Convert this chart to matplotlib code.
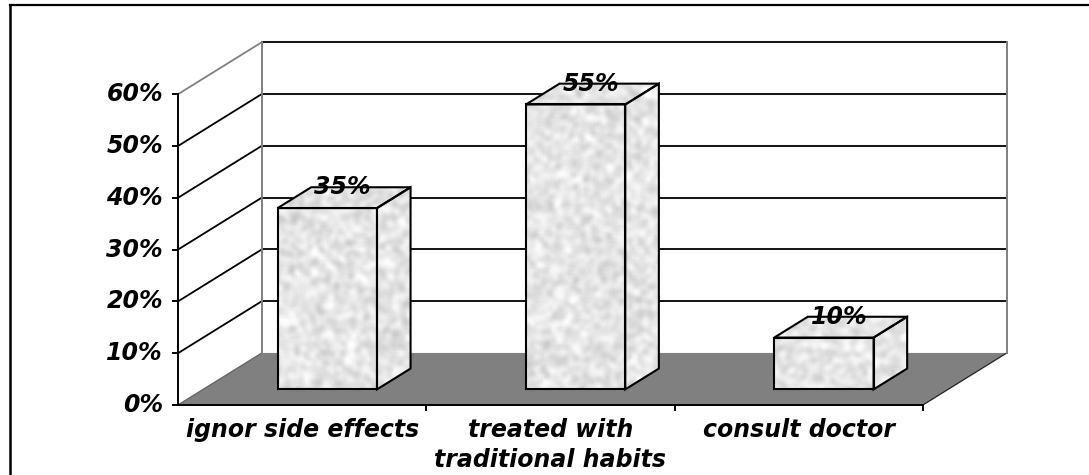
import numpy as np
import matplotlib.pyplot as plt
from matplotlib.patches import Polygon
from matplotlib.lines import Line2D

categories = ["ignor side effects", "treated with\ntraditional habits", "consult doctor"]
values = [35, 55, 10]          # percent
yticks = [0, 10, 20, 30, 40, 50, 60]

# oblique depth offset of the 3-D floor (category units, percent units)
DX, DY = 0.338, 10.05
BAR_W = 0.4                    # gap width 150%
D0, D1 = 0.3, 0.7              # bar depth span within the floor

plt.rcParams['font.family'] = ['DejaVu Sans']
font = dict(fontsize=17, fontweight='bold', fontstyle='italic')

fig = plt.figure(figsize=(10.89, 4.75), dpi=100)
ax = fig.add_axes([0, 0, 1, 1])
ax.set_xlim(-178 / 248.3, (1089 - 178) / 248.3)
ax.set_ylim(-70 / 5.18, 405 / 5.18)
ax.axis('off')

n = len(categories)
ymax = yticks[-1]


def p(x, y, d=0.0):
    return (x + d * DX, y + d * DY)


# floor
floor = Polygon([p(0, 0), p(n, 0), p(n, 0, 1), p(0, 0, 1)], closed=True,
                facecolor='#808080', edgecolor='none', zorder=1)
ax.add_patch(floor)
ax.plot(*zip(p(0, 0), p(0, 0, 1)), color='#666666', lw=1.0, zorder=2)
ax.plot(*zip(p(n, 0), p(n, 0, 1)), color='#222222', lw=0.9, zorder=2)

# walls: gridlines on the side wall and back wall
for v in yticks[1:]:
    c = '#808080' if v == ymax else 'black'
    ax.plot(*zip(p(0, v), p(0, v, 1)), color=c, lw=1.3, zorder=2)
    ax.plot(*zip(p(0, v, 1), p(n, v, 1)), color='black', lw=1.3, zorder=2)
for x in (0, n):
    ax.plot(*zip(p(x, 0, 1), p(x, ymax, 1)), color='#808080', lw=1.4, zorder=2)

# axes lines and ticks
tx = 5 / 248.3
ty = 5 / 5.18
ax.plot([0, 0], [0, ymax], color='black', lw=1.4, zorder=3)
ax.plot([0, n], [0, 0], color='black', lw=1.4, zorder=3)
for v in yticks:
    ax.plot([-tx, 0], [v, v], color='black', lw=1.4, zorder=3)
    ax.text(-15 / 248.3, v, f"{v}%", ha='right', va='center', **font)
for i in range(1, n + 1):
    ax.plot([i, i], [0, -ty], color='black', lw=1.4, zorder=3)
for i, lab in enumerate(categories):
    ax.text(i + 0.5, -2.6, lab, ha='center', va='top', linespacing=1.3, **font)

# mottled texture for the bar faces
rng = np.random.default_rng(7)
tex = rng.random((240, 560))
for _ in range(2):
    tex = (tex + np.roll(tex, 1, 0) + np.roll(tex, -1, 0)) / 3
    tex = (tex + np.roll(tex, 1, 1) + np.roll(tex, -1, 1)) / 3
tex = (tex - tex.mean()) / tex.std() * 0.035 + 0.9
tex = np.clip(tex, 0.78, 0.99)
extent = (*ax.get_xlim(), *ax.get_ylim())

for i, v in enumerate(values):
    x0 = i + 0.5 - BAR_W / 2
    x1 = i + 0.5 + BAR_W / 2
    front = [p(x0, 0, D0), p(x1, 0, D0), p(x1, v, D0), p(x0, v, D0)]
    top = [p(x0, v, D0), p(x1, v, D0), p(x1, v, D1), p(x0, v, D1)]
    side = [p(x1, 0, D0), p(x1, 0, D1), p(x1, v, D1), p(x1, v, D0)]
    for face in (front, top, side):
        poly = Polygon(face, closed=True, facecolor='none', edgecolor='black',
                       lw=1.5, joinstyle='miter', zorder=5)
        ax.add_patch(poly)
        im = ax.imshow(tex, cmap='gray', vmin=0, vmax=1, extent=extent,
                       interpolation='bilinear', aspect='auto', zorder=4)
        im.set_clip_path(poly)
    lx, ly = p(i + 0.5, v, (D0 + D1) / 2)
    ax.text(lx - 0.006, v + D1 * DY, f"{v}%", ha='center', va='center', zorder=6, **font)

# outer chart border (left and top edges)
fig.add_artist(Line2D([10 / 1089, 10 / 1089], [0, 1 - 5 / 475],
                      transform=fig.transFigure, color='black', lw=1.8))
fig.add_artist(Line2D([10 / 1089, 1], [1 - 5 / 475, 1 - 5 / 475],
                      transform=fig.transFigure, color='black', lw=1.6))

fig.savefig('out.png', dpi=100)
